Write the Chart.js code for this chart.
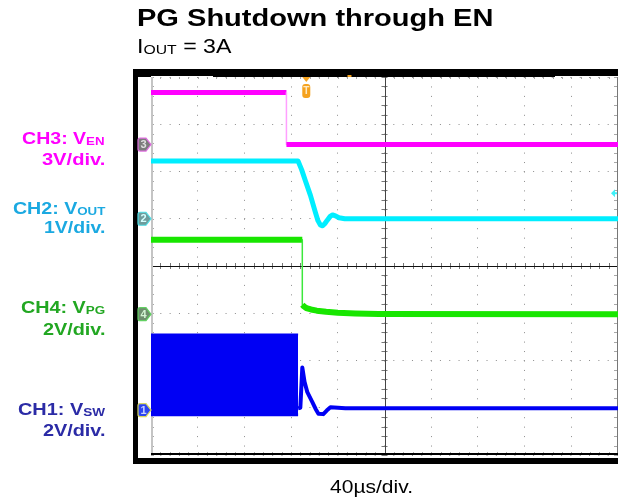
<!DOCTYPE html>
<html lang="en">
<head>
<meta charset="UTF-8">
<title>PG Shutdown through EN</title>
<style>
  body { margin: 0; background: #fff; font-family: "Liberation Sans", Arial, sans-serif; }
  #page { position: relative; width: 618px; height: 502px; overflow: hidden; }
  #scope { position: absolute; left: 0; top: 0; }
  .txt { position: absolute; white-space: nowrap; line-height: 1; transform-origin: left center; }
  .lbl { font-weight: bold; font-size: 16px; right: 513px; transform-origin: right center; }
  .sub { font-size: 0.68em; vertical-align: -1px; }
</style>
</head>
<body>
<div id="page">
  <canvas id="scope" width="618" height="502"></canvas>

  <div class="txt fit" data-w="356" style="left:137px;top:7px;font-size:23px;font-weight:bold;">PG Shutdown through EN</div>
  <div class="txt fit" data-w="95" style="left:137px;top:36px;font-size:20px;">I<span class="sub">OUT</span> = 3A</div>

  <div class="txt lbl fit" data-w="83" style="top:131px;color:#f0f;">CH3: V<span class="sub">EN</span></div>
  <div class="txt lbl fit" data-w="63" style="top:152px;color:#f0f;">3V/div.</div>
  <div class="txt lbl fit" data-w="92" style="top:201px;color:#1ba9e1;">CH2: V<span class="sub">OUT</span></div>
  <div class="txt lbl fit" data-w="61" style="top:220px;color:#1ba9e1;">1V/div.</div>
  <div class="txt lbl fit" data-w="84" style="top:300px;color:#22a722;">CH4: V<span class="sub">PG</span></div>
  <div class="txt lbl fit" data-w="62" style="top:322px;color:#22a722;">2V/div.</div>
  <div class="txt lbl fit" data-w="87" style="top:402px;color:#2b2ba6;">CH1: V<span class="sub">SW</span></div>
  <div class="txt lbl fit" data-w="62" style="top:423px;color:#2b2ba6;">2V/div.</div>

  <div class="txt fit" data-w="83" style="left:330px;top:477px;font-size:19px;">40µs/div.</div>
</div>

<script src="https://cdn.jsdelivr.net/npm/chart.js"></script>
<script>
  // horizontal: 40 µs/div over 10 divisions, vertical: 8 divisions
  const timeSpanUs = [0, 400];
  const divSpan = [-4, 4];

  // channel setup, index 0..3 = CH1..CH4
  const voltsPerDiv = [2, 1, 3, 2];
  const groundDiv = [-3.05, 1.0, 2.57, -1.02];

  // CH3 V_EN
  const enTimeUs = [0, 116, 116, 400];
  const enVolts = [3.3, 3.3, 0, 0];

  // CH2 V_OUT
  const voutTimeUs = [0, 126, 129, 132, 136.5, 141, 143, 145, 147, 149, 151, 153.5, 155.5, 158, 161, 166, 400];
  const voutVolts = [1.22, 1.22, 1.04, 0.82, 0.5, 0.12, -0.04, -0.13, -0.15, -0.1, -0.03, 0.05, 0.08, 0.06, 0.02, 0, 0];

  // CH4 V_PG
  const pgTimeUs = [0, 129.6, 129.6, 131, 133, 137, 142, 150, 160, 175, 195, 400];
  const pgVolts = [3.15, 3.15, 0.4, 0.33, 0.26, 0.2, 0.15, 0.1, 0.06, 0.03, 0.01, 0];

  // CH1 V_SW: switching burst (envelope) then the ring-out once the FETs stop
  const swBurstUs = [0, 126];
  const swBurstHigh = [3.2, 3.2];
  const swBurstLow = [-0.2, -0.2];
  const swTimeUs = [126, 127.9, 129.6, 131.5, 133.9, 138.2, 141, 143.4, 147.6, 150.5, 153.7, 166.5, 400];
  const swVolts = [0.08, 0.1, 1.8, 1.2, 0.76, 0.34, 0.05, -0.15, -0.17, -0.02, 0.12, 0.08, 0.08];

  // trigger position / level (on CH2)
  const triggerUs = 133;
  const triggerLevelV = 0.54;
  // horizontal delay readout marker on the top bezel
  const delayMarkUs = 170;

  function toDiv(ch, v) {
    return groundDiv[ch] + v / voltsPerDiv[ch];
  }

  function trace(ch, times, volts) {
    return times.map((t, i) => ({ x: t, y: toDiv(ch, volts[i]) }));
  }

  // fast edges show up as thin faint lines on the scope
  const isEdge = ctx => ctx.p0.parsed.x === ctx.p1.parsed.x;
  function edgeStyle(color) {
    return {
      borderColor: ctx => isEdge(ctx) ? color : undefined,
      borderWidth: ctx => isEdge(ctx) ? 1.5 : undefined
    };
  }

  // black bezel, centre axes, minor ticks and channel markers
  const scopeFrame = {
    id: 'scopeFrame',
    beforeDraw(chart) {
      const { ctx, chartArea: a } = chart;
      const x0 = a.left - 18;
      ctx.save();
      ctx.fillStyle = '#000';
      ctx.fillRect(x0, a.top - 8, chart.width - x0, 8);           // top
      ctx.fillRect(x0, a.top - 8, 5, a.bottom - a.top + 17);      // left
      ctx.fillRect(x0, a.bottom + 3, chart.width - x0, 6);        // bottom
      // record window indicator on the top bezel
      ctx.fillStyle = '#fff';
      ctx.fillRect(a.left, a.top - 1, 62, 1);
      ctx.fillRect(a.right - 63, a.top - 1, 63, 1);
      ctx.restore();
    },
    beforeDatasetsDraw(chart) {
      const { ctx, chartArea: a, scales: { x, y } } = chart;
      const xc = x.getPixelForValue(200);
      const yc = y.getPixelForValue(0);
      ctx.save();
      ctx.lineWidth = 1;

      // minor ticks (5 per division) on the centre cross
      ctx.strokeStyle = '#777';
      ctx.beginPath();
      for (let t = 0; t <= 400; t += 8) {
        const px = Math.round(x.getPixelForValue(t)) + 0.5;
        ctx.moveTo(px, yc - 3); ctx.lineTo(px, yc + 3);
      }
      for (let d = -4; d <= 4.001; d += 0.2) {
        const py = Math.round(y.getPixelForValue(d)) + 0.5;
        ctx.moveTo(xc - 3, py); ctx.lineTo(xc + 3, py);
      }
      ctx.stroke();

      // minor ticks along the graticule edges
      ctx.strokeStyle = '#a8a8a8';
      ctx.beginPath();
      for (let t = 0; t <= 400; t += 8) {
        const px = Math.round(x.getPixelForValue(t)) + 0.5;
        ctx.moveTo(px, a.top); ctx.lineTo(px, a.top + 2);
        ctx.moveTo(px, a.bottom - 3); ctx.lineTo(px, a.bottom);
      }
      for (let d = -4; d <= 4.001; d += 0.2) {
        const py = Math.round(y.getPixelForValue(d)) + 0.5;
        ctx.moveTo(a.left, py); ctx.lineTo(a.left + 3, py);
        ctx.moveTo(a.right - 4, py); ctx.lineTo(a.right - 1, py);
      }
      ctx.stroke();

      // centre cross
      ctx.strokeStyle = '#444';
      ctx.beginPath();
      ctx.moveTo(Math.round(xc) + 0.5, a.top); ctx.lineTo(Math.round(xc) + 0.5, a.bottom);
      ctx.stroke();
      ctx.strokeStyle = '#111';
      ctx.beginPath();
      ctx.moveTo(a.left, Math.round(yc) + 0.5); ctx.lineTo(a.right, Math.round(yc) + 0.5);
      ctx.stroke();

      // graticule edges
      ctx.strokeStyle = '#c4c4c4';
      ctx.lineWidth = 2;
      ctx.beginPath();
      ctx.moveTo(a.left + 1, a.top); ctx.lineTo(a.left + 1, a.bottom);
      ctx.stroke();
      ctx.strokeStyle = '#777';
      ctx.lineWidth = 1;
      ctx.beginPath();
      ctx.moveTo(a.right - 0.5, a.top); ctx.lineTo(a.right - 0.5, a.bottom);
      ctx.stroke();
      ctx.strokeStyle = '#000';
      ctx.lineWidth = 2;
      ctx.beginPath();
      ctx.moveTo(a.left, a.bottom - 1); ctx.lineTo(a.right, a.bottom - 1);
      ctx.stroke();
      ctx.restore();
    },
    afterDatasetsDraw(chart) {
      const { ctx, chartArea: a, scales: { x, y } } = chart;
      ctx.save();

      // ground markers
      const fills = ['#2b44f2', '#6e9c9c', '#7c7c7c', '#6e8e6e'];
      const edges = ['#d8d860', '#4fe0e8', '#e070e0', '#62d062'];
      const inks = ['#c8d0ff', '#d4ffff', '#e0e0e0', '#d4f4d4'];
      [2, 1, 3, 0].forEach(ch => {
        const py = y.getPixelForValue(groundDiv[ch]);
        const l = a.left - 13, r = a.left;
        ctx.beginPath();
        ctx.moveTo(l + 2, py - 6.5);
        ctx.lineTo(r - 5, py - 6.5);
        ctx.lineTo(r, py);
        ctx.lineTo(r - 5, py + 6.5);
        ctx.lineTo(l + 2, py + 6.5);
        ctx.quadraticCurveTo(l, py + 6.5, l, py + 4.5);
        ctx.lineTo(l, py - 4.5);
        ctx.quadraticCurveTo(l, py - 6.5, l + 2, py - 6.5);
        ctx.closePath();
        ctx.fillStyle = fills[ch];
        ctx.fill();
        ctx.strokeStyle = edges[ch];
        ctx.lineWidth = 1.2;
        ctx.stroke();
        ctx.fillStyle = inks[ch];
        ctx.font = 'bold 11px "Liberation Sans", Arial, sans-serif';
        ctx.textAlign = 'center';
        ctx.textBaseline = 'middle';
        ctx.fillText(String(ch + 1), l + 5.5, py + 0.5);
      });

      // trigger position marker
      const tx = x.getPixelForValue(triggerUs);
      ctx.fillStyle = '#f5a21e';
      ctx.beginPath();
      ctx.moveTo(tx - 4, a.top); ctx.lineTo(tx + 4, a.top); ctx.lineTo(tx, a.top + 5);
      ctx.closePath();
      ctx.fill();
      ctx.beginPath();
      ctx.roundRect(tx - 4, a.top + 7, 8, 14, 3);
      ctx.fill();
      ctx.fillStyle = '#ffe9c0';
      ctx.font = 'bold 10px "Liberation Sans", Arial, sans-serif';
      ctx.textAlign = 'center';
      ctx.textBaseline = 'middle';
      ctx.fillText('T', tx, a.top + 14.5);
      ctx.fillStyle = '#f5a21e';
      ctx.fillRect(x.getPixelForValue(delayMarkUs) - 2, a.top - 2, 4, 2);

      // trigger level arrow on CH2
      const ly = y.getPixelForValue(toDiv(1, triggerLevelV));
      ctx.fillStyle = '#3ff0f8';
      ctx.beginPath();
      ctx.moveTo(a.right - 7, ly); ctx.lineTo(a.right - 3, ly - 4); ctx.lineTo(a.right - 3, ly + 4);
      ctx.closePath();
      ctx.fill();
      ctx.fillRect(a.right - 4, ly - 1, 3, 2);
      ctx.restore();
    }
  };

  const gridColor = '#8c8c8c';

  new Chart(document.getElementById('scope'), {
    type: 'line',
    data: {
      datasets: [
        {
          label: 'CH1 burst high',
          data: trace(0, swBurstUs, swBurstHigh),
          borderColor: '#0000f4', backgroundColor: '#0000f4',
          borderWidth: 2, fill: '+1', order: 4
        },
        {
          label: 'CH1 burst low',
          data: trace(0, swBurstUs, swBurstLow),
          borderColor: '#0000f4', borderWidth: 3, fill: false, order: 4
        },
        {
          label: 'CH1 V_SW',
          data: trace(0, swTimeUs, swVolts),
          borderColor: '#0000f4', borderWidth: 4, order: 3
        },
        {
          label: 'CH4 V_PG',
          data: trace(3, pgTimeUs, pgVolts),
          borderColor: '#18e600', borderWidth: 6, order: 2,
          segment: edgeStyle('#3ce83c')
        },
        {
          label: 'CH2 V_OUT',
          data: trace(1, voutTimeUs, voutVolts),
          borderColor: '#00eeff', borderWidth: 5, order: 1
        },
        {
          label: 'CH3 V_EN',
          data: trace(2, enTimeUs, enVolts),
          borderColor: '#ff00ff', borderWidth: 5, order: 0,
          segment: edgeStyle('#ffa0ff')
        }
      ]
    },
    options: {
      responsive: false,
      animation: false,
      events: [],
      elements: {
        point: { radius: 0 },
        line: { tension: 0, borderCapStyle: 'butt', borderJoinStyle: 'round' }
      },
      // the x scale keeps a few px spare on its right end, hence the negative pad
      layout: { padding: { left: 151, top: 77, right: -3, bottom: 47 } },
      plugins: { legend: { display: false }, tooltip: { enabled: false } },
      scales: {
        x: {
          type: 'linear',
          min: timeSpanUs[0], max: timeSpanUs[1],
          ticks: { display: false, stepSize: 40 },
          grid: { drawTicks: false, color: gridColor, lineWidth: 1 },
          border: { display: false, dash: [1, 8.45] }
        },
        y: {
          min: divSpan[0], max: divSpan[1],
          ticks: { display: false, stepSize: 1 },
          grid: { drawTicks: false, color: gridColor, lineWidth: 1 },
          border: { display: false, dash: [1, 8.32] }
        }
      }
    },
    plugins: [scopeFrame]
  });

  // squeeze/stretch each caption to its box width
  document.querySelectorAll('.fit').forEach(el => {
    el.style.transform = 'scaleX(' + (el.dataset.w / el.offsetWidth) + ')';
  });
</script>
</body>
</html>
